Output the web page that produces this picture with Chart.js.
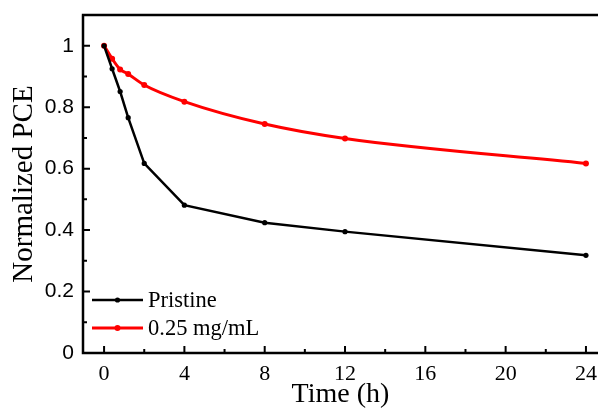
<!DOCTYPE html>
<html>
<head>
<meta charset="utf-8">
<script src="https://cdn.jsdelivr.net/npm/chart.js@4/dist/chart.umd.min.js"></script>
<style>
  html, body { margin: 0; padding: 0; background: #fff; }
  #wrap { width: 598px; height: 411px; }
</style>
</head>
<body>
<div id="wrap"><canvas id="chart" width="598" height="411"></canvas></div>
<script>
  const hours = [0, 0.4, 0.8, 1.2, 2, 4, 8, 12, 24]
  const pristine = [1, 0.925, 0.851, 0.766, 0.617, 0.481, 0.424, 0.395, 0.318]
  const treated = [1, 0.958, 0.923, 0.908, 0.872, 0.818, 0.745, 0.698, 0.617]

  const xTicks = [0, 4, 8, 12, 16, 20, 24]
  const xMinor = [2, 6, 10, 14, 18, 22]
  const yTicks = [0, 0.2, 0.4, 0.6, 0.8, 1]
  const yMinor = [0.1, 0.3, 0.5, 0.7, 0.9]

  const serif = '"Liberation Serif", "Times New Roman", serif'
  const sans = '"Liberation Sans", Arial, sans-serif'

  const toPoints = (ys) => hours.map((h, i) => ({ x: h, y: ys[i] }))

  // spines, inward ticks and the legend drawn over the plot
  const frame = {
    id: 'frame',
    afterDraw (chart) {
      const { ctx, chartArea: a, scales: { x, y } } = chart
      ctx.save()
      ctx.strokeStyle = '#000'
      ctx.lineWidth = 2.5
      ctx.beginPath()
      ctx.moveTo(a.left, a.top)
      ctx.lineTo(a.left, a.bottom)
      ctx.lineTo(a.right, a.bottom)
      ctx.moveTo(a.left - 1.2, a.top)
      ctx.lineTo(a.right, a.top)
      ctx.stroke()

      ctx.lineWidth = 2
      ctx.beginPath()
      xTicks.forEach(v => { const p = x.getPixelForValue(v); ctx.moveTo(p, a.bottom); ctx.lineTo(p, a.bottom - 7) })
      xMinor.forEach(v => { const p = x.getPixelForValue(v); ctx.moveTo(p, a.bottom); ctx.lineTo(p, a.bottom - 4) })
      yTicks.forEach(v => { const p = y.getPixelForValue(v); ctx.moveTo(a.left, p); ctx.lineTo(a.left + 7, p) })
      yMinor.forEach(v => { const p = y.getPixelForValue(v); ctx.moveTo(a.left, p); ctx.lineTo(a.left + 4, p) })
      ctx.stroke()

      // legend
      ctx.font = '22.5px ' + serif
      ctx.textBaseline = 'middle'
      ctx.textAlign = 'left'
      chart.data.datasets.forEach((ds, i) => {
        const ly = 300 + i * 28
        ctx.strokeStyle = ds.borderColor
        ctx.lineWidth = ds.borderWidth
        ctx.beginPath()
        ctx.moveTo(92, ly)
        ctx.lineTo(143, ly)
        ctx.stroke()
        ctx.fillStyle = ds.borderColor
        ctx.beginPath()
        ctx.arc(117.5, ly, ds.pointRadius, 0, Math.PI * 2)
        ctx.fill()
        ctx.fillStyle = '#000'
        ctx.fillText(ds.label, 148, ly + 1)
      })
      ctx.restore()
    }
  }

  const ctx = document.getElementById('chart').getContext('2d')

  /* eslint-disable no-new */
  new Chart(ctx, {
    type: 'line',
    data: {
      datasets: [
        {
          label: 'Pristine',
          data: toPoints(pristine),
          borderColor: '#000000',
          backgroundColor: '#000000',
          borderWidth: 2.5,
          pointRadius: 2.6,
          pointBorderWidth: 0,
          tension: 0,
          fill: false
        },
        {
          label: '0.25 mg/mL',
          data: toPoints(treated),
          borderColor: '#ff0000',
          backgroundColor: '#ff0000',
          borderWidth: 3,
          pointRadius: 3,
          pointBorderWidth: 0,
          cubicInterpolationMode: 'monotone',
          fill: false
        }
      ]
    },
    options: {
      responsive: false,
      animation: false,
      devicePixelRatio: 1,
      layout: { autoPadding: false, padding: { top: 15, right: 0, left: 0, bottom: 0 } },
      plugins: {
        legend: { display: false },
        tooltip: { enabled: false }
      },
      scales: {
        x: {
          type: 'linear',
          min: -1.05,
          max: 24.6,
          afterFit: (scale) => {
            scale.height = 58
            scale.paddingLeft = 0
            scale.paddingRight = 0
          },
          afterBuildTicks: (scale) => { scale.ticks = xTicks.map(v => ({ value: v })) },
          grid: { display: false, drawTicks: false },
          border: { display: false },
          ticks: {
            color: '#000',
            padding: 8,
            maxRotation: 0,
            autoSkip: false,
            font: { family: serif, size: 22 },
            callback: (v) => String(v)
          },
          title: {
            display: true,
            text: 'Time (h)',
            color: '#000',
            padding: { top: 0, bottom: 0 },
            font: { family: serif, size: 28 }
          }
        },
        y: {
          min: 0,
          max: 1.1,
          afterFit: (scale) => {
            scale.width = 83
            scale.paddingTop = 0
            scale.paddingBottom = 0
          },
          afterBuildTicks: (scale) => { scale.ticks = yTicks.map(v => ({ value: v })) },
          grid: { display: false, drawTicks: false },
          border: { display: false },
          ticks: {
            color: '#000',
            padding: 9,
            autoSkip: false,
            font: { family: sans, size: 21 },
            callback: (v) => String(Math.round(v * 10) / 10)
          },
          title: {
            display: true,
            text: 'Normalized PCE',
            color: '#000',
            padding: { top: 7, bottom: 0 },
            font: { family: serif, size: 29 }
          }
        }
      }
    },
    plugins: [frame]
  })
</script>
</body>
</html>
